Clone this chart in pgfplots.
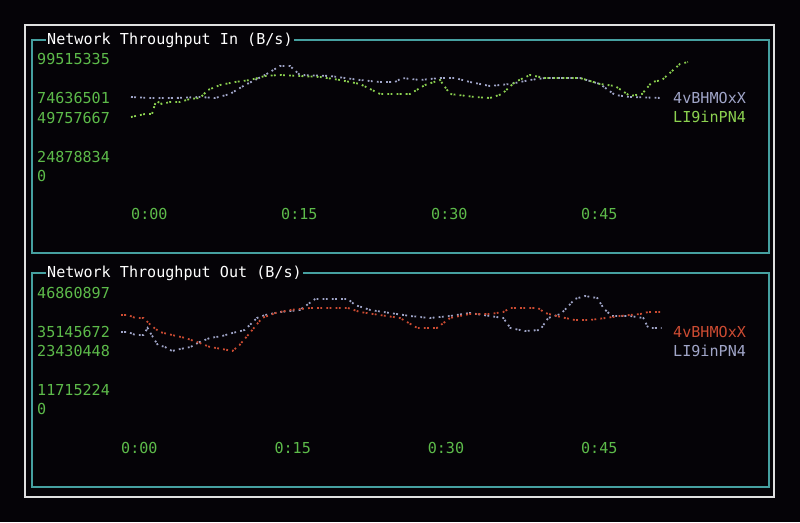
\documentclass[border=0pt]{standalone}
\usepackage{pgfplots}
\pgfplotsset{compat=1.18}
\usepackage{fontspec}
\setmonofont{DejaVu Sans Mono}
\definecolor{bg}{HTML}{050307}
\definecolor{frame}{HTML}{46A0A0}
\definecolor{tickgreen}{HTML}{5DBB4A}
\definecolor{lgreen}{HTML}{8CD250}
\definecolor{lav}{HTML}{A0A5C8}
\definecolor{rred}{HTML}{CC4B32}
\newcommand\term{\ttfamily\fontsize{15.1}{18}\selectfont}

\pgfplotsset{
  termchart/.style={
    scale only axis, clip=false,
    axis line style={draw=none}, tick style={draw=none},
    xmin=0, ymin=0, scaled y ticks=false,
    xtick={0,15,30,45}, xticklabels={0:00,0:15,0:30,0:45},
    ticklabel style={font=\term, text=tickgreen, inner sep=0pt, anchor=west},
  },
  braille/.style={line width=1.8pt, no marks,
    dash pattern=on 1.8pt off 1.4pt on 1.8pt off 4.2pt},
}

\begin{document}
\begin{tikzpicture}
% terminal background and boxes
\fill[bg] (0pt,0pt) rectangle (800pt,522pt);
\draw[color=black!12, line width=1.2pt] (25pt,25pt) rectangle (774pt,497pt);
\draw[frame, line width=1.3pt] (32pt,269pt) rectangle (769pt,482pt);
\draw[frame, line width=1.3pt] (32pt,35pt) rectangle (769pt,249pt);
\node[anchor=west, fill=bg, inner sep=1pt, text=white, font=\term] at (46pt,482pt) {Network Throughput In (B/s)};
\node[anchor=west, fill=bg, inner sep=1pt, text=white, font=\term] at (46pt,249pt) {Network Throughput Out (B/s)};

% series names
\node[anchor=west, inner sep=0pt, text=lav, font=\term] at (673pt,424pt) {4vBHMOxX};
\node[anchor=west, inner sep=0pt, text=lgreen, font=\term] at (673pt,405pt) {LI9inPN4};
\node[anchor=west, inner sep=0pt, text=rred, font=\term] at (673pt,190pt) {4vBHMOxX};
\node[anchor=west, inner sep=0pt, text=lav, font=\term] at (673pt,171pt) {LI9inPN4};

% --- Network Throughput In
\begin{axis}[termchart, at={(131pt,346pt)}, anchor=south west,
  width=560pt, height=117pt, xmax=56, ymax=99515335,
  ytick={0,16161000,49332000,66344000,99515335},
  yticklabels={0,24878834,49757667,74636501,99515335},
  xticklabel style={yshift=-38pt}, yticklabel style={xshift=-94pt}]
\addplot[lav, braille] coordinates {
 (0,67.19e6) (1.9,66.34e6) (4.4,66.34e6) (6.9,67.19e6) (8.4,66.34e6)
 (9.9,69.75e6) (11.4,77.40e6) (13.4,85.91e6) (14.9,93.56e6) (15.9,93.56e6)
 (16.9,85.91e6) (19.9,85.06e6) (22.9,81.65e6) (24.9,79.95e6) (26.4,79.95e6)
 (27.1,83.35e6) (28.9,81.65e6) (30.9,83.35e6) (32.4,83.35e6) (33.9,79.95e6)
 (35.9,76.55e6) (37.9,78.25e6) (39.9,81.65e6) (41.4,83.35e6) (44.9,83.35e6)
 (46.9,78.25e6) (48.4,68.90e6) (49.9,67.19e6) (53.1,66.34e6)
};
\addplot[lgreen, braille] coordinates {
 (0,50.18e6) (1.4,52.73e6) (2.1,52.73e6) (2.5,63.79e6) (3.1,61.24e6)
 (3.9,62.94e6) (4.9,62.94e6) (5.9,65.49e6) (6.9,66.34e6) (7.7,73.15e6)
 (8.9,77.40e6) (10.4,79.95e6) (11.9,81.65e6) (13.4,85.06e6) (14.9,85.91e6)
 (16.9,85.06e6) (18.9,84.21e6) (20.9,81.65e6) (22.9,78.25e6) (24.9,69.75e6)
 (27.9,69.75e6) (29.4,77.40e6) (30.9,81.65e6) (31.9,69.75e6) (34.4,67.19e6)
 (35.9,66.34e6) (37.1,69.75e6) (38.4,79.95e6) (39.9,85.91e6) (41.4,83.35e6)
 (44.9,83.35e6) (46.9,78.25e6) (48.4,76.55e6) (49.9,68.04e6) (51.1,69.75e6)
 (52.1,79.95e6) (53.1,81.65e6) (54.9,95.26e6) (55.7,96.96e6)
};
\end{axis}

% --- Network Throughput Out
\begin{axis}[termchart, at={(121pt,113pt)}, anchor=south west,
  width=551.9pt, height=116pt, xmax=54, ymax=46860897,
  ytick={0,7680000,23430000,31110000,46860897},
  yticklabels={0,11715224,23430448,35145672,46860897},
  xticklabel style={yshift=-39pt}, yticklabel style={xshift=-84pt}]
\addplot[lav, braille] coordinates {
 (0,31.11e6) (0.7,31.11e6) (1.4,29.89e6) (2.2,29.89e6) (2.6,32.72e6)
 (3.0,29.89e6) (3.6,25.85e6) (4.3,25.05e6) (5.0,23.43e6) (5.8,24.24e6)
 (6.8,25.05e6) (7.7,27.07e6) (8.7,28.68e6) (9.9,29.49e6) (10.9,30.70e6)
 (12.1,31.91e6) (13.3,36.76e6) (14.1,37.97e6) (15.6,39.18e6) (17.5,39.99e6)
 (19.0,44.44e6) (20.5,44.44e6) (22.2,44.44e6) (22.9,42.01e6) (24.4,39.99e6)
 (26.3,38.78e6) (28.3,37.57e6) (30.2,36.76e6) (32.2,37.57e6) (34.1,38.78e6)
 (36.1,37.57e6) (37.4,36.76e6) (38.1,32.72e6) (39.5,31.51e6) (41.0,31.91e6)
 (41.8,36.76e6) (43.0,38.38e6) (43.7,41.21e6) (44.4,44.44e6) (45.4,45.65e6)
 (46.6,44.84e6) (47.2,40.80e6) (48.0,37.57e6) (49.8,37.57e6) (51.1,36.76e6)
 (51.6,32.72e6) (52.9,32.72e6)
};
\addplot[rred, braille] coordinates {
 (0,37.97e6) (0.7,37.97e6) (1.4,36.76e6) (2.2,36.76e6) (3.0,33.53e6)
 (3.8,31.11e6) (5.0,29.89e6) (6.3,28.68e6) (7.7,26.66e6) (8.7,25.05e6)
 (9.9,24.24e6) (10.9,23.43e6) (11.6,25.85e6) (12.6,30.70e6) (13.8,36.76e6)
 (15.1,38.78e6) (16.5,39.99e6) (18.5,40.80e6) (20.7,40.80e6) (22.2,40.80e6)
 (23.4,39.18e6) (25.3,37.97e6) (27.3,36.76e6) (29.0,32.72e6) (30.9,32.72e6)
 (32.2,36.76e6) (34.1,38.38e6) (36.1,38.38e6) (37.4,39.18e6) (38.1,40.80e6)
 (40.8,40.80e6) (41.5,38.78e6) (43.0,37.17e6) (44.4,35.95e6) (45.9,35.95e6)
 (47.4,36.76e6) (48.8,37.57e6) (50.8,38.38e6) (51.6,39.18e6) (52.9,39.18e6)
};
\end{axis}
\end{tikzpicture}
\end{document}
